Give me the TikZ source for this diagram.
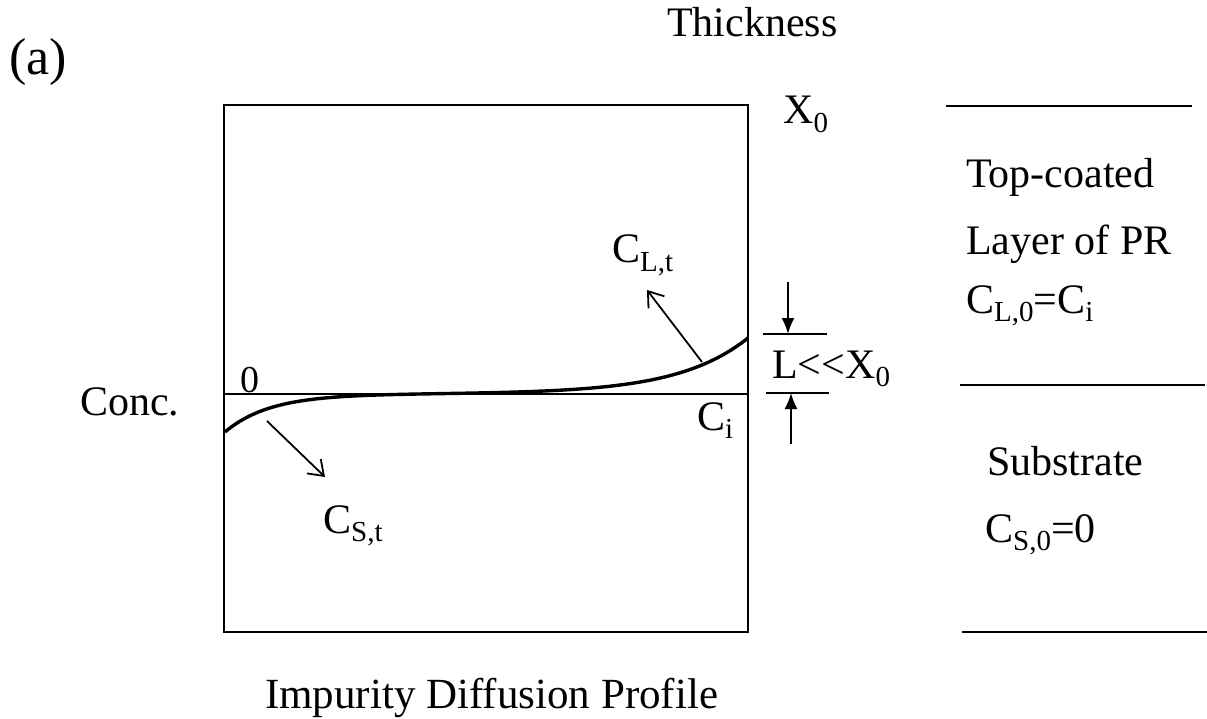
\documentclass[tikz,border=0pt]{standalone}
\usepackage{fontspec}
\setmainfont{Liberation Serif}
\usetikzlibrary{arrows.meta}
\newcommand\sbx[1]{\raisebox{-0.2em}{\fontsize{29}{29}\selectfont #1}}
\tikzset{
  txt/.style={inner sep=0pt, anchor=base west, font=\fontsize{42}{48}\selectfont},
  frame/.style={line width=2.6pt},
  rule/.style={line width=2.6pt},
  curve/.style={line width=3.4pt, line join=round},
  pointer/.style={line width=1.8pt, -{Straight Barb[length=14pt,width=20pt,line width=1.8pt]}},
  marker/.style={line width=1.8pt, -{Latex[length=16pt,width=13pt]}},
  tick/.style={line width=2.2pt}
}
\begin{document}
\begin{tikzpicture}[x=1pt,y=-1pt]
\useasboundingbox (0,0) rectangle (1207,719);
% frame
\draw[frame] (224,105) rectangle (748,632);
\draw[frame] (224,394) -- (748,394);
% profile
\draw[curve] plot[domain=225:748, samples=160] (\x, {394 + 38*exp(-(\x-225)/45) - 56*exp((\x-748)/70)});
% labels in plot
\node[txt, font=\fontsize{52}{60}\selectfont] (a) at (9,75) {(a)};
\node[txt] (thick) at (667,37) {Thickness};
\node[txt] (x0) at (783,124) {X\sbx{0}};
\node[txt] (conc) at (80,415) {Conc.};
\node[txt, font=\fontsize{38}{44}\selectfont] (zero) at (240,392) {0};
\node[txt] (ci) at (697,430) {C\sbx{i}};
\node[txt] (clt) at (612,263) {C\sbx{L,t}};
\node[txt] (cst) at (323,533) {C\sbx{S,t}};
\node[txt] (ll) at (772,378) {L{<}{<}X\sbx{0}};
% pointer arrows
\coordinate (clttail) at (702,362);
\coordinate (clthead) at (647,290);
\coordinate (csttail) at (267,421);
\coordinate (csthead) at (325,477);
\draw[pointer] (clttail) -- (clthead);
\draw[pointer] (csttail) -- (csthead);
% thickness marker
\coordinate (t1a) at (763,334); \coordinate (t1b) at (827,334);
\coordinate (t2a) at (766,393); \coordinate (t2b) at (829,393);
\draw[tick] (t1a) -- (t1b);
\draw[tick] (t2a) -- (t2b);
\coordinate (m1s) at (788,282); \coordinate (m1e) at (788,334);
\coordinate (m2s) at (791,444); \coordinate (m2e) at (791,393);
\draw[marker] (m1s) -- (m1e);
\draw[marker] (m2s) -- (m2e);
% right column
\coordinate (r1a) at (946,106); \coordinate (r1b) at (1192,106);
\coordinate (r2a) at (960,385); \coordinate (r2b) at (1205,385);
\coordinate (r3a) at (962,632); \coordinate (r3b) at (1207,632);
\draw[rule] (r1a) -- (r1b);
\draw[rule] (r2a) -- (r2b);
\draw[rule] (r3a) -- (r3b);
\node[txt] (top) at (966,188) {Top-coated};
\node[txt] (layer) at (966,255) {Layer of PR};
\node[txt] (cl0) at (966,313) {C\sbx{L,0}=C\sbx{i}};
\node[txt] (sub) at (987,475) {Substrate};
\node[txt] (cs0) at (985,542) {C\sbx{S,0}=0};
\node[txt, font=\fontsize{43}{50}\selectfont] (title) at (265,708) {Impurity Diffusion Profile};
\end{tikzpicture}
\end{document}
